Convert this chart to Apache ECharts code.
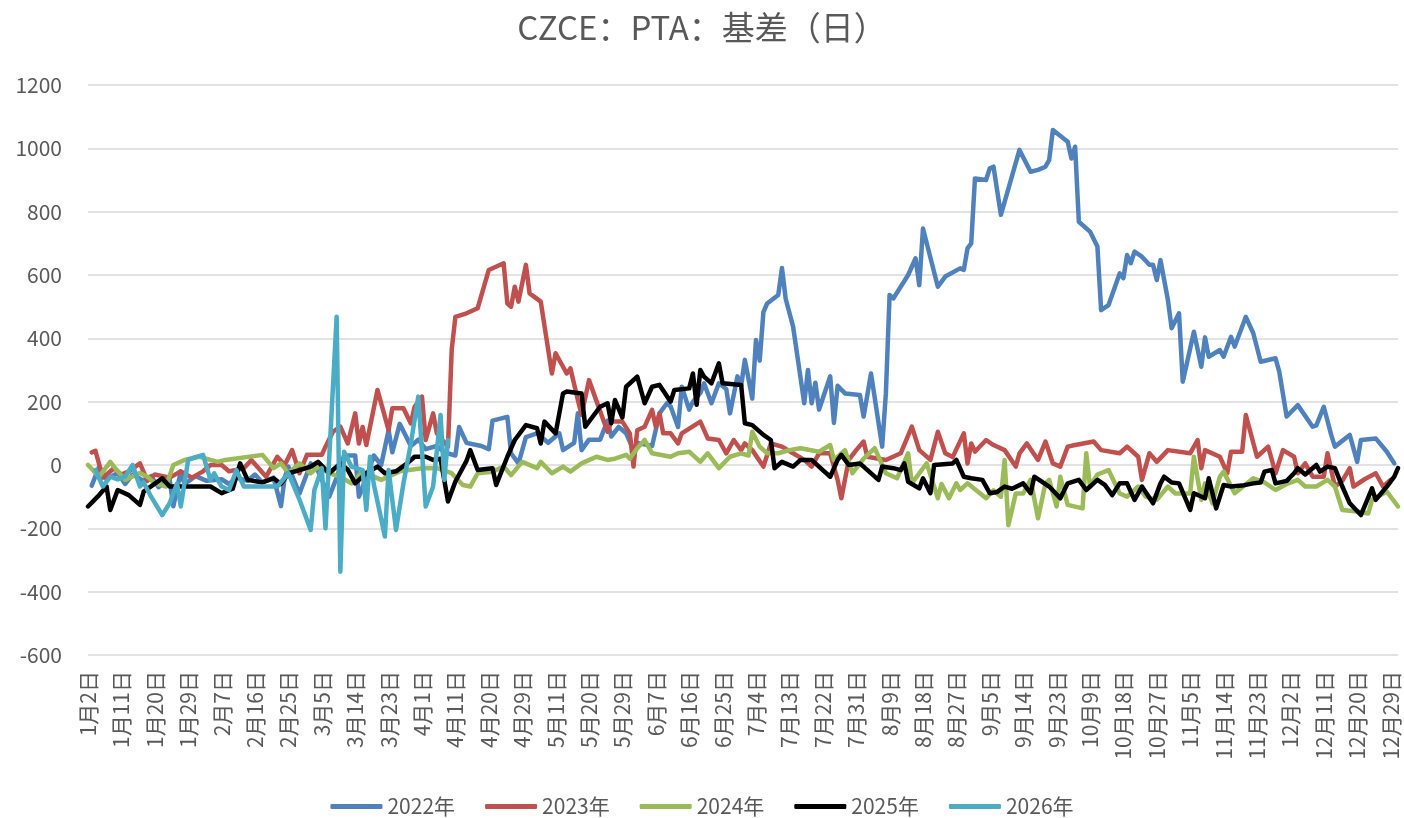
<!DOCTYPE html>
<html>
<head>
<meta charset="utf-8">
<title>CZCE PTA 基差</title>
<script src="https://cdn.jsdelivr.net/npm/echarts@6/dist/echarts.min.js"></script>
<style>
    html, body { margin: 0; padding: 0; background: #fff; }
    #main { width: 1404px; height: 818px; }
</style>
</head>
<body>
<div id="main"></div>
<script>
// trading-day calendar (month-day), days closed in every year are left out
var monthDays = [31, 29, 31, 30, 31, 30, 31, 31, 30, 31, 30, 31];
var closedDays = ['1-1', '4-5', '5-1', '5-2', '5-3', '10-1', '10-2', '10-3', '10-4', '10-5', '10-6', '10-7'];

var yTicks = { min: -600, max: 1200, step: 200 };
var seriesNames = ['2022年', '2023年', '2024年', '2025年', '2026年'];
var seriesColors = ['#4F81BD', '#C0504D', '#9BBB59', '#000000', '#4BACC6'];

// values: [month-day, basis]
var y2022 = [['1-3',-65],['1-5',-5],['1-7',-45],['1-10',-25],['1-12',-60],['1-14',-30],['1-17',-50],['1-19',-35],['1-21',-70],['1-24',-45],['1-25',-130],['1-27',-20],['1-28',-60],['1-31',-35],['2-3',-50],['2-7',-45],['2-9',-60],['2-11',-40],['2-14',-50],['2-16',-30],['2-18',-55],['2-21',-40],['2-23',-130],['2-24',-40],['2-25',-5],['2-28',-90],['3-2',5],['3-4',-20],['3-7',-100],['3-9',-40],['3-11',30],['3-14',30],['3-15',-100],['3-17',-40],['3-19',30],['3-21',0],['3-23',110],['3-24',40],['3-26',130],['3-29',60],['3-31',80],['4-2',50],['4-6',60],['4-8',40],['4-11',30],['4-12',120],['4-14',70],['4-18',60],['4-20',50],['4-21',140],['4-25',152],['4-26',37],['4-28',5],['4-30',88],['5-6',100],['5-9',70],['5-12',100],['5-13',47],['5-16',70],['5-17',163],['5-18',47],['5-20',80],['5-23',80],['5-25',140],['5-26',90],['5-28',120],['5-30',100],['6-1',47],['6-2',70],['6-6',60],['6-8',163],['6-10',195],['6-11',185],['6-13',120],['6-14',247],['6-16',175],['6-17',200],['6-19',227],['6-20',258],['6-22',195],['6-24',258],['6-26',240],['6-27',163],['6-29',280],['6-30',250],['7-1',332],['7-3',210],['7-4',395],['7-5',330],['7-6',483],['7-7',510],['7-10',537],['7-11',622],['7-12',525],['7-14',437],['7-17',195],['7-18',300],['7-19',195],['7-20',260],['7-21',175],['7-24',280],['7-25',133],['7-26',250],['7-28',226],['8-1',221],['8-2',153],['8-4',289],['8-7',58],['8-8',226],['8-9',537],['8-10',526],['8-14',600],['8-16',653],['8-17',568],['8-18',747],['8-22',563],['8-24',595],['8-28',621],['8-29',616],['8-30',684],['8-31',700],['9-1',905],['9-4',900],['9-5',937],['9-6',942],['9-8',790],['9-13',995],['9-16',926],['9-18',932],['9-20',942],['9-21',963],['9-22',1058],['9-26',1021],['9-27',968],['9-28',1005],['9-29',768],['10-9',737],['10-11',690],['10-12',489],['10-14',505],['10-17',605],['10-18',590],['10-19',663],['10-20',637],['10-21',674],['10-23',658],['10-25',632],['10-26',632],['10-27',584],['10-28',647],['10-30',521],['10-31',432],['11-2',479],['11-3',263],['11-6',421],['11-8',310],['11-9',403],['11-10',342],['11-13',363],['11-14',342],['11-16',405],['11-17',374],['11-20',468],['11-22',416],['11-24',326],['11-28',337],['11-29',295],['12-1',153],['12-4',189],['12-8',121],['12-9',125],['12-11',184],['12-13',95],['12-14',58],['12-18',95],['12-20',10],['12-21',79],['12-25',84],['12-28',42],['12-30',5]];

var y2023 = [['1-3',40],['1-4',45],['1-6',-40],['1-9',-10],['1-11',-30],['1-13',-20],['1-16',5],['1-18',-50],['1-20',-30],['1-24',-40],['1-27',-20],['1-30',-40],['2-2',-20],['2-4',0],['2-7',0],['2-9',-20],['2-13',-10],['2-15',16],['2-19',-37],['2-22',26],['2-24',0],['2-26',47],['2-28',-26],['3-1',32],['3-5',32],['3-6',58],['3-8',105],['3-10',121],['3-12',68],['3-14',163],['3-15',68],['3-16',120],['3-17',63],['3-20',237],['3-23',110],['3-24',179],['3-27',179],['3-29',131],['3-30',184],['4-1',216],['4-2',79],['4-4',163],['4-6',100],['4-9',58],['4-10',363],['4-11',468],['4-14',479],['4-17',495],['4-20',616],['4-24',637],['4-25',510],['4-26',500],['4-27',563],['4-28',516],['4-30',632],['5-4',542],['5-7',516],['5-10',289],['5-11',353],['5-14',289],['5-15',305],['5-17',205],['5-18',158],['5-20',268],['5-25',105],['5-26',137],['5-29',137],['5-31',100],['6-1',-5],['6-2',110],['6-4',121],['6-6',174],['6-7',121],['6-8',163],['6-9',100],['6-11',100],['6-13',68],['6-14',100],['6-19',137],['6-21',84],['6-24',79],['6-26',37],['6-28',79],['6-30',47],['7-1',68],['7-3',47],['7-6',-5],['7-8',68],['7-11',58],['7-14',37],['7-17',16],['7-19',-5],['7-21',37],['7-24',37],['7-26',-47],['7-27',-105],['7-29',16],['7-31',47],['8-2',74],['8-3',26],['8-8',16],['8-12',37],['8-15',121],['8-17',47],['8-20',16],['8-22',105],['8-24',37],['8-26',25],['8-29',100],['8-30',5],['8-31',68],['9-1',42],['9-4',79],['9-6',63],['9-9',47],['9-12',-5],['9-13',37],['9-15',68],['9-18',16],['9-20',74],['9-22',5],['9-24',-5],['9-26',58],['9-28',63],['10-10',74],['10-12',47],['10-17',37],['10-19',58],['10-22',26],['10-23',-47],['10-25',37],['10-27',10],['10-30',47],['11-5',37],['11-7',79],['11-8',-10],['11-9',47],['11-13',26],['11-15',-26],['11-16',42],['11-19',42],['11-20',158],['11-23',26],['11-26',58],['11-28',-26],['11-30',47],['12-3',26],['12-4',-26],['12-6',5],['12-8',-37],['12-11',-37],['12-12',37],['12-14',-68],['12-16',-50],['12-18',-10],['12-19',-68],['12-22',-45],['12-25',-26],['12-27',-68],['12-29',-47]];

var y2024 = [['1-2',0],['1-5',-37],['1-8',10],['1-10',-20],['1-12',-47],['1-16',-25],['1-18',-37],['1-20',-58],['1-23',-68],['1-25',0],['1-28',16],['2-1',26],['2-4',16],['2-6',10],['2-8',16],['2-18',32],['2-21',-10],['2-23',5],['2-25',-26],['2-28',5],['3-2',-26],['3-4',-5],['3-7',-26],['3-10',-37],['3-13',-58],['3-16',-20],['3-21',-47],['3-26',-20],['4-1',-10],['4-6',-10],['4-10',-26],['4-13',-63],['4-15',-68],['4-17',-26],['4-21',-21],['4-24',-5],['4-26',-32],['4-29',10],['5-6',-10],['5-7',10],['5-10',-26],['5-13',-5],['5-15',-21],['5-18',5],['5-22',26],['5-25',16],['5-27',20],['5-30',32],['5-31',20],['6-2',53],['6-4',79],['6-6',37],['6-11',26],['6-13',37],['6-16',42],['6-19',10],['6-21',37],['6-24',-10],['6-27',26],['6-30',37],['7-2',30],['7-3',105],['7-5',58],['7-7',37],['7-10',37],['7-13',47],['7-16',53],['7-21',42],['7-24',63],['7-25',16],['7-28',47],['7-30',-26],['8-2',20],['8-5',53],['8-8',-26],['8-11',-42],['8-14',37],['8-15',-58],['8-17',-26],['8-19',5],['8-22',-105],['8-23',-60],['8-25',-105],['8-27',-58],['8-28',-79],['8-30',-58],['9-4',-105],['9-6',-80],['9-8',-100],['9-9',16],['9-10',-190],['9-12',-90],['9-14',-90],['9-16',-47],['9-18',-168],['9-20',-58],['9-21',-47],['9-23',-131],['9-24',-37],['9-26',-126],['9-30',-137],['10-8',37],['10-9',-68],['10-11',-30],['10-14',-16],['10-15',-40],['10-17',-90],['10-19',-100],['10-22',-68],['10-24',-100],['10-27',-110],['10-30',-68],['11-1',-90],['11-5',-90],['11-6',26],['11-8',-110],['11-9',-58],['11-11',-121],['11-13',-37],['11-14',-21],['11-17',-89],['11-22',-42],['11-25',-55],['11-28',-79],['12-1',-60],['12-4',-47],['12-6',-68],['12-9',-68],['12-12',-47],['12-14',-68],['12-16',-142],['12-20',-147],['12-23',-153],['12-24',-110],['12-28',-84],['12-31',-131]];

var y2025 = [['1-2',-131],['1-5',-95],['1-7',-68],['1-8',-142],['1-10',-79],['1-13',-95],['1-16',-126],['1-17',-84],['1-22',-42],['1-24',-68],['1-28',-68],['2-4',-68],['2-7',-89],['2-10',-75],['2-12',5],['2-14',-47],['2-18',-55],['2-21',-42],['2-23',-60],['2-25',-26],['2-28',-16],['3-2',-5],['3-4',10],['3-7',-26],['3-10',5],['3-12',-15],['3-14',-58],['3-17',-26],['3-20',-5],['3-22',-26],['3-25',-20],['3-28',5],['3-30',26],['4-2',26],['4-4',16],['4-7',20],['4-9',-115],['4-11',-52],['4-14',13],['4-15',47],['4-17',-16],['4-21',-10],['4-22',-63],['4-25',26],['4-27',79],['4-30',126],['5-6',116],['5-7',68],['5-8',137],['5-11',100],['5-13',226],['5-14',232],['5-18',226],['5-19',121],['5-23',184],['5-25',195],['5-26',132],['5-27',205],['5-29',150],['5-30',247],['6-2',279],['6-4',195],['6-6',247],['6-8',253],['6-11',200],['6-12',237],['6-16',242],['6-17',289],['6-18',190],['6-19',300],['6-20',279],['6-22',258],['6-24',321],['6-25',258],['6-30',253],['7-1',132],['7-3',126],['7-6',95],['7-8',79],['7-9',-10],['7-11',10],['7-14',-5],['7-16',16],['7-19',16],['7-22',-16],['7-24',-37],['7-26',16],['7-27',32],['7-29',0],['8-1',5],['8-6',-47],['8-7',-5],['8-10',-10],['8-12',-16],['8-13',5],['8-14',-53],['8-17',-74],['8-18',-42],['8-20',-89],['8-21',0],['8-26',5],['8-27',16],['8-29',-37],['8-31',-42],['9-3',-47],['9-5',-89],['9-7',-85],['9-9',-68],['9-11',-75],['9-14',-58],['9-16',-89],['9-17',-37],['9-21',-68],['9-24',-105],['9-26',-58],['9-29',-47],['10-8',-79],['10-11',-47],['10-13',-63],['10-15',-95],['10-17',-58],['10-19',-58],['10-21',-110],['10-23',-68],['10-26',-121],['10-28',-58],['10-29',-37],['10-31',-55],['11-2',-58],['11-5',-142],['11-6',-89],['11-9',-105],['11-10',-42],['11-12',-137],['11-14',-63],['11-16',-68],['11-19',-65],['11-22',-58],['11-24',-55],['11-25',-21],['11-27',-16],['11-28',-58],['12-1',-50],['12-3',-26],['12-4',-10],['12-6',-30],['12-9',0],['12-10',-21],['12-12',-5],['12-14',-10],['12-16',-68],['12-18',-121],['12-21',-158],['12-24',-74],['12-25',-110],['12-28',-68],['12-30',-37],['12-31',-10]];

var y2026 = [['1-4',-16],['1-6',-68],['1-8',-37],['1-10',-45],['1-12',-37],['1-14',0],['1-16',-68],['1-17',-55],['1-19',-100],['1-22',-158],['1-24',-121],['1-26',-58],['1-27',-131],['1-29',16],['1-31',25],['2-2',32],['2-4',-47],['2-5',-26],['2-7',-68],['2-9',-79],['2-11',-16],['2-13',-68],['2-22',-68],['2-25',-26],['2-28',-110],['3-2',-205],['3-3',-79],['3-5',-10],['3-6',-200],['3-9',468],['3-10',-337],['3-11',42],['3-13',-5],['3-16',-16],['3-17',-142],['3-18',26],['3-19',-60],['3-22',-226],['3-23',-16],['3-25',-205],['3-27',-58],['3-29',68],['3-31',216],['4-2',-131],['4-4',-68],['4-7',158],['4-8',-47],['4-9',79]];

var categories = [];
for (var m = 1; m <= 12; m++) {
    for (var d = 1; d <= monthDays[m - 1]; d++) {
        if (closedDays.indexOf(m + '-' + d) < 0) {
            categories.push(m + '月' + d + '日');
        }
    }
}

function toLabel(key) {
    var p = key.split('-');
    return p[0] + '月' + p[1] + '日';
}

function buildSeries(name, rows, color) {
    var data = [];
    for (var i = 0; i < rows.length; i++) {
        data.push([toLabel(rows[i][0]), rows[i][1]]);
    }
    return {
        name: name,
        type: 'line',
        data: data,
        symbol: 'none',
        lineStyle: { width: 4.5, color: color, join: 'round', cap: 'round' },
        itemStyle: { color: color }
    };
}

var allRows = [y2022, y2023, y2024, y2025, y2026];
var series = [];
for (var s = 0; s < allRows.length; s++) {
    series.push(buildSeries(seriesNames[s], allRows[s], seriesColors[s]));
}

var font = '"Noto Sans CJK SC", "Noto Sans", sans-serif';
var chart = echarts.init(document.getElementById('main'));
chart.setOption({
    animation: false,
    backgroundColor: '#ffffff',
    textStyle: { fontFamily: font },
    title: {
        text: 'CZCE：PTA：基差（日）',
        left: 'center',
        top: 6,
        textStyle: { fontSize: 33, fontWeight: 'normal', color: '#595959', fontFamily: font }
    },
    legend: {
        top: 791,
        left: 'center',
        itemWidth: 52,
        itemHeight: 5,
        itemGap: 30,
        icon: 'roundRect',
        textStyle: { fontSize: 21, color: '#595959', fontFamily: font },
        data: seriesNames
    },
    grid: { left: 88, right: 6, top: 85, bottom: 163, containLabel: false },
    xAxis: {
        type: 'category',
        data: categories,
        boundaryGap: false,
        axisLine: { show: false },
        axisTick: { show: false },
        axisLabel: {
            interval: 8,
            rotate: 90,
            margin: 16,
            fontSize: 21,
            color: '#595959',
            fontFamily: font
        },
        splitLine: { show: false }
    },
    yAxis: {
        type: 'value',
        min: yTicks.min,
        max: yTicks.max,
        interval: yTicks.step,
        axisLine: { show: false },
        axisTick: { show: false },
        axisLabel: {
            fontSize: 21,
            color: '#595959',
            margin: 26,
            fontFamily: font,
            formatter: function (v) { return String(v); }
        },
        splitLine: { lineStyle: { color: '#d9d9d9', width: 1.5 } }
    },
    series: series
});
</script>
</body>
</html>
